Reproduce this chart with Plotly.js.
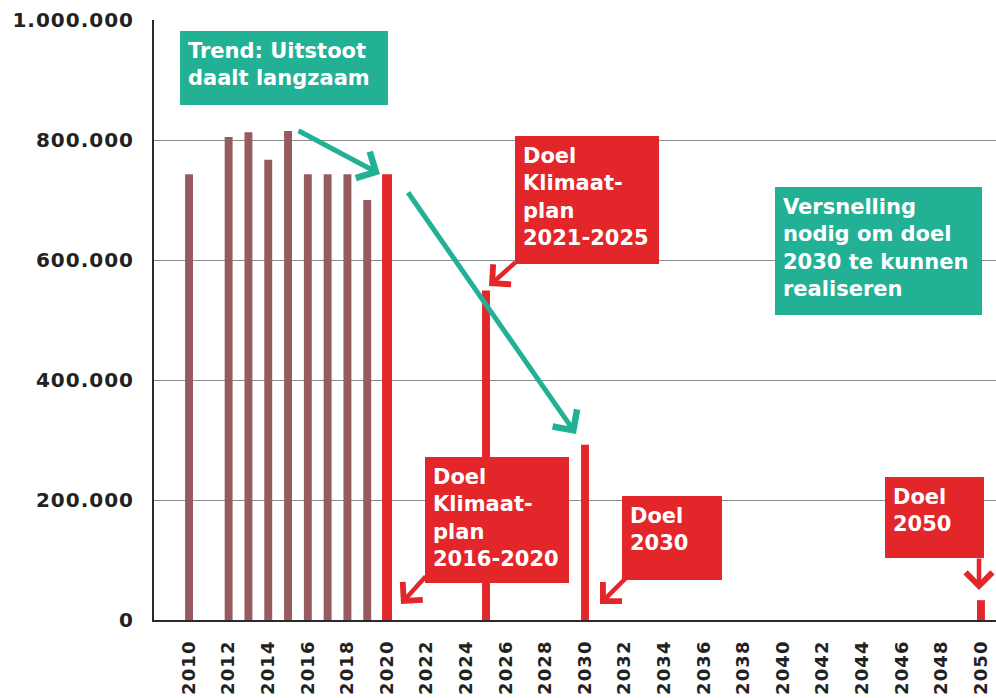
<!DOCTYPE html>
<html>
<head>
<meta charset="utf-8">
<script src="https://cdn.plot.ly/plotly-3.0.1.min.js"></script>
<style>
  html, body { margin: 0; padding: 0; background: #fff; }
  #chart { width: 996px; height: 698px; }
  .xtick text { letter-spacing: 1.2px; }
  .ytick text { letter-spacing: 1px; }
</style>
</head>
<body>
<div id="chart"></div>
<script>
// ---- data ----
const historyYears = [2010, 2012, 2013, 2014, 2015, 2016, 2017, 2018, 2019];
const historyValues = [743000, 805000, 813000, 767000, 815000, 743000, 743000, 743000, 700000];
const targetYears = [2020, 2025, 2030, 2050];
const targetValues = [743000, 549000, 292000, 33000];
const tickYears = [2010, 2012, 2014, 2016, 2018, 2020, 2022, 2024, 2026, 2028, 2030,
                   2032, 2034, 2036, 2038, 2040, 2042, 2044, 2046, 2048, 2050];
const tickLabels = tickYears.map(String);
const trendText = 'Trend: Uitstoot<br>daalt langzaam';
const speedText = 'Versnelling<br>nodig om doel<br>2030 te kunnen<br>realiseren';
const goal2025Text = 'Doel<br>Klimaat-<br>plan<br>2021-2025';
const goal2020Text = 'Doel<br>Klimaat-<br>plan<br>2016-2020';
const goal2030Text = 'Doel<br>2030';
const goal2050Text = 'Doel<br>2050';

// ---- style ----
const BROWN = '#955b5f';
const RED = '#e2262a';
const TEAL = '#23b196';

// layout geometry helpers (pixel -> data) for annotation placement
const L = 154, T = 20, PW = 842, PH = 600;
const XR = [2008.23, 2050.76];
const YR = [0, 1000000];
const dx = p => XR[0] + (p - L) / PW * (XR[1] - XR[0]);
const dy = p => YR[1] - (p - T) / PH * (YR[1] - YR[0]);

const boxFont = { family: 'DejaVu Sans', size: 21, color: '#ffffff', weight: 'bold' };
const tickFont = { family: 'DejaVu Sans', size: 19, color: '#222222', weight: 'bold' };

function box(text, left, top, w, h, color, pad) {
  return {
    xref: 'x', yref: 'y', x: dx(left), y: dy(top),
    xanchor: 'left', yanchor: 'top',
    text: text, showarrow: false, align: 'left', valign: 'top',
    width: w - 2 * pad, height: h - 2 * pad, borderpad: pad, borderwidth: 0,
    bgcolor: color, font: boxFont
  };
}
function arrow(tx, ty, hx, hy, color, w, size) {
  return {
    xref: 'x', yref: 'y', axref: 'x', ayref: 'y',
    x: dx(hx), y: dy(hy), ax: dx(tx), ay: dy(ty),
    text: '', showarrow: true, arrowhead: 4, arrowsize: size, arrowwidth: w,
    arrowcolor: color, standoff: 0, startstandoff: 0
  };
}

const traces = [
  {
    type: 'bar', x: historyYears, y: historyValues,
    marker: { color: BROWN }, width: 0.4, hoverinfo: 'x+y'
  },
  {
    type: 'bar', x: targetYears, y: targetValues,
    marker: { color: RED }, width: targetYears.map(y => y === 2020 ? 0.5 : 0.4), hoverinfo: 'x+y'
  }
];

const layout = {
  width: 996, height: 698,
  margin: { l: L, r: 996 - L - PW, t: T, b: 698 - T - PH, pad: 0 },
  paper_bgcolor: '#ffffff', plot_bgcolor: '#ffffff',
  showlegend: false, barmode: 'overlay',
  separators: ',.',
  xaxis: {
    range: XR, tickmode: 'array', tickvals: tickYears, ticktext: tickLabels,
    tickangle: -90, ticks: '', showgrid: false, zeroline: false,
    showline: true, linecolor: '#2a2a2a', linewidth: 2,
    ticklabelstandoff: 11,
    tickfont: Object.assign({}, tickFont, { size: 18 })
  },
  yaxis: {
    range: YR, tickmode: 'linear', tick0: 0, dtick: 200000, tickformat: ',d',
    ticks: '', showgrid: true, gridcolor: '#8c8c8c', gridwidth: 1, zeroline: false,
    showline: true, linecolor: '#2a2a2a', linewidth: 2,
    ticklabelstandoff: 14,
    tickfont: Object.assign({}, tickFont, { size: 20 })
  },
  annotations: [
    arrow(297, 130, 380, 174, TEAL, 5, 1.15),
    arrow(407, 191, 576, 434, TEAL, 5, 1.15),
    box(trendText, 180, 31, 208, 74, TEAL, 8),
    box(speedText, 775, 187, 207, 128, TEAL, 8),
    arrow(517, 261, 489, 286, RED, 4.5, 1.15),
    box(goal2025Text, 515, 136, 144, 128, RED, 8),
    arrow(427, 575, 401, 604, RED, 4.5, 1.15),
    box(goal2020Text, 425, 457, 144, 126, RED, 8),
    arrow(627, 577, 600, 604, RED, 4.5, 1.15),
    box(goal2030Text, 622, 496, 100, 84, RED, 8),
    arrow(979, 557, 979, 590, RED, 4.5, 1.15),
    box(goal2050Text, 885, 477, 99, 81, RED, 8)
  ]
};

Plotly.newPlot('chart', traces, layout, { displayModeBar: false, staticPlot: true });
</script>
</body>
</html>
